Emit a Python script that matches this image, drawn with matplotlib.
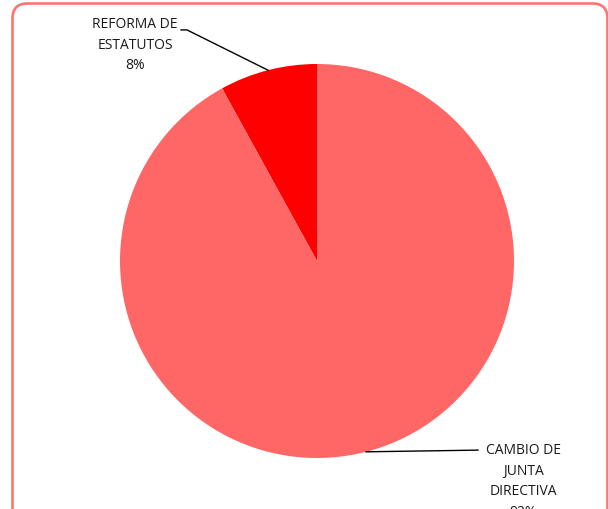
import matplotlib
matplotlib.use("Agg")
import matplotlib.pyplot as plt
import numpy as np
from matplotlib.patches import FancyBboxPatch
from matplotlib.transforms import IdentityTransform

categories = ["REFORMA DE\nESTATUTOS", "CAMBIO DE\nJUNTA\nDIRECTIVA"]
values = [8, 92]
colors = ["#FF0000", "#FF6666"]

W, H = 608, 510
fig = plt.figure(figsize=(W / 100, H / 100), dpi=100)
fig.patch.set_facecolor("white")

cx, cy, r = 317, 248, 197
ax = fig.add_axes([(cx - r) / W, (cy - r) / H, 2 * r / W, 2 * r / H])
wedges, _ = ax.pie(values, colors=colors, startangle=90, counterclock=True,
                   radius=1.0, wedgeprops=dict(linewidth=0))
ax.set_xlim(-1, 1)
ax.set_ylim(-1, 1)
ax.set_aspect("equal")
ax.axis("off")

font = dict(family=["Open Sans", "DejaVu Sans"], fontsize=10, color="#1a1a1a")

# label layout (data units, radius = 1)
text_pos = [(-0.924, 1.10), (1.046, -1.115)]
line_end = [[(-0.69, 1.173), (-0.66, 1.173)], [(0.817, -0.960)]]

total = sum(values)
for w, cat, v, tp, le in zip(wedges, categories, values, text_pos, line_end):
    ang = np.deg2rad((w.theta1 + w.theta2) / 2)
    p0 = (np.cos(ang), np.sin(ang))
    pts = [p0] + le[::-1]
    xs = [p[0] for p in pts]
    ys = [p[1] for p in pts]
    ax.plot(xs, ys, color="black", lw=1.0, clip_on=False)
    pct = f"{round(100 * v / total)}%"
    ax.text(tp[0], tp[1], f"{cat}\n{pct}", ha="center", va="center",
            linespacing=1.5, clip_on=False, **font)

border = FancyBboxPatch((12.5, -20), 595, 525.5,
                        boxstyle="round,pad=0,rounding_size=15",
                        transform=IdentityTransform(), fill=False,
                        edgecolor="#FF7373", linewidth=1.9)
fig.add_artist(border)

fig.savefig("out.png", dpi=100)
